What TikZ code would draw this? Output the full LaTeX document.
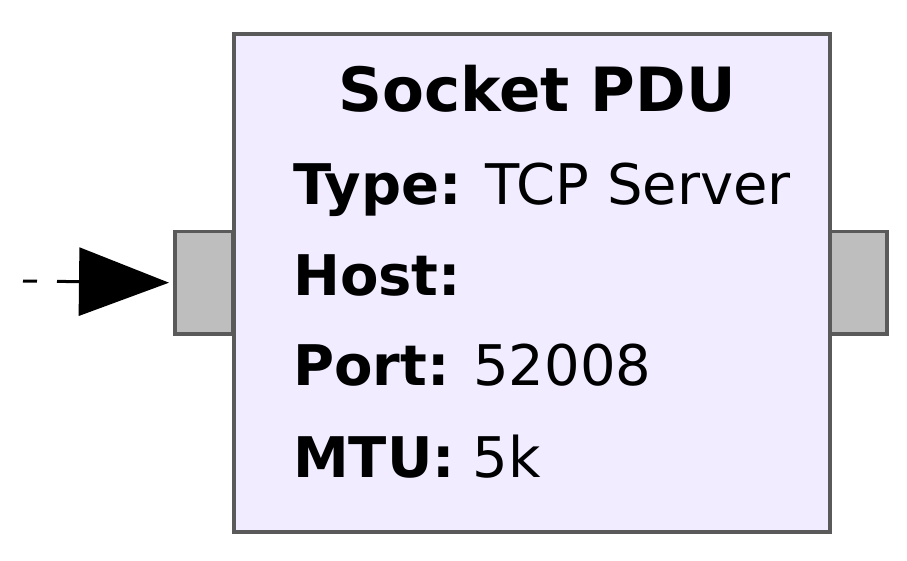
\documentclass[tikz,border=0pt]{standalone}
\usepackage{fontspec}
\setmainfont{DejaVu Sans}
\usetikzlibrary{arrows.meta}
\definecolor{blockfill}{HTML}{F1ECFF}
\definecolor{blockline}{HTML}{5A5A5A}
\definecolor{portfill}{HTML}{BEBEBE}
\tikzset{
  blockbox/.style={draw=blockline, line width=4pt, fill=blockfill},
  portbox/.style={draw=blockline, line width=3.5pt, fill=portfill},
  txt/.style={anchor=base west, inner sep=0pt, font=\fontsize{56}{60}\selectfont},
}
\begin{document}
\begin{tikzpicture}[x=1pt,y=-1pt]
\useasboundingbox (0,0) rectangle (907,561);
\node[portbox, minimum width=58pt, minimum height=102pt, inner sep=0pt, anchor=north west] (inport) at (173,230) {};
\node[portbox, minimum width=58pt, minimum height=102pt, inner sep=0pt, anchor=north west] (outport) at (827,230) {};
\node[blockbox, minimum width=596pt, minimum height=498pt, inner sep=0pt, anchor=north west] (block) at (232,32) {};
\node[txt, anchor=base, font=\fontsize{61}{64}\selectfont] (title) at (537,112) {\textbf{Socket PDU}};
\node[txt] (type) at (293,205) {\textbf{Type:} TCP Server};
\node[txt] (host) at (293,295) {\textbf{Host:}};
\node[txt] (port) at (293,385) {\textbf{Port:} 52008};
\node[txt] (mtu) at (293,477) {\textbf{MTU:} 5k};
\coordinate (src) at (23,281);
\draw[line width=3pt, dash pattern=on 14pt off 20pt on 60pt off 20pt, shorten >=4pt, -{Triangle[length=90pt,width=68pt]}] (src) -- (inport.west);
\end{tikzpicture}
\end{document}
